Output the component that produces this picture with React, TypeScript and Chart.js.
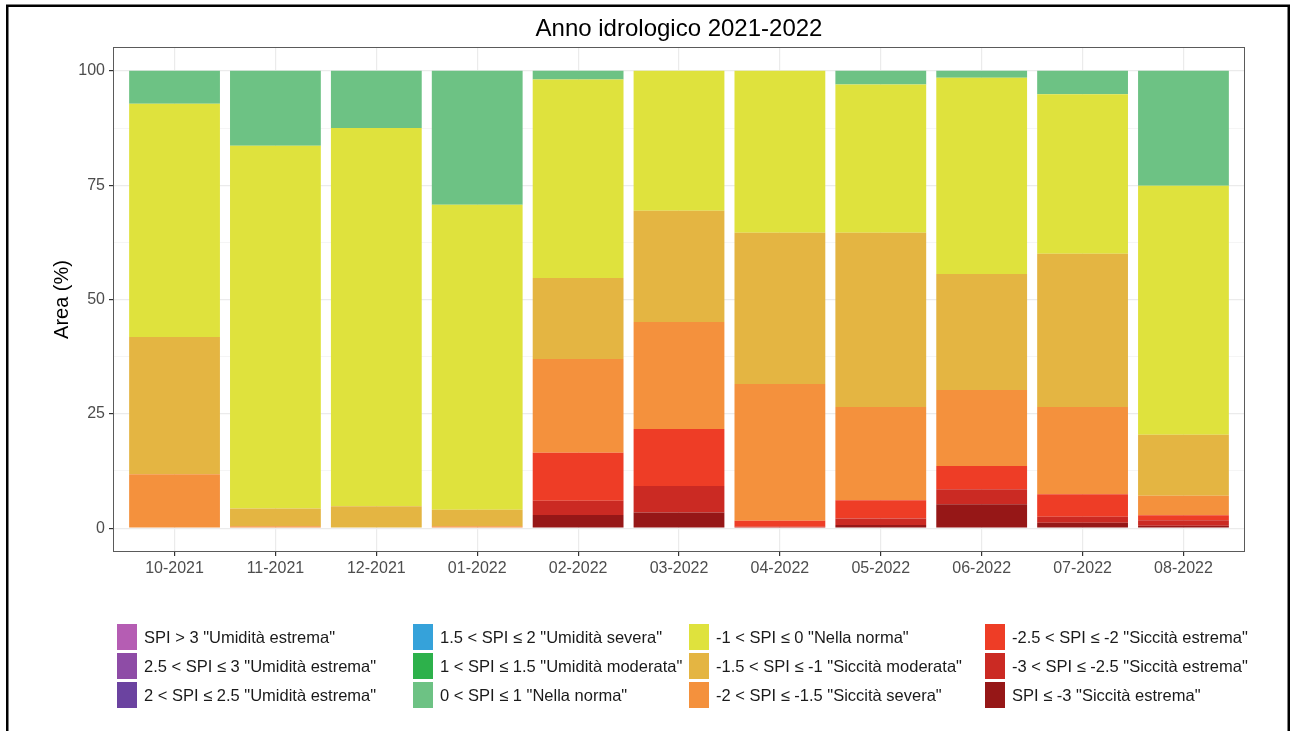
import { useEffect, useRef } from 'react';
import { Chart, registerables } from 'chart.js';

Chart.register(...registerables);

// ---------- data ----------
const months = ['10-2021', '11-2021', '12-2021', '01-2022', '02-2022', '03-2022', '04-2022', '05-2022', '06-2022', '07-2022', '08-2022'];

// classes, wettest -> driest (legend order, column-major)
const classLabels = [
  'SPI > 3 "Umidità estrema"',
  '2.5 < SPI ≤ 3 "Umidità estrema"',
  '2 < SPI ≤ 2.5 "Umidità estrema"',
  '1.5 < SPI ≤ 2 "Umidità severa"',
  '1 < SPI ≤ 1.5 "Umidità moderata"',
  '0 < SPI ≤ 1 "Nella norma"',
  '-1 < SPI ≤ 0 "Nella norma"',
  '-1.5 < SPI ≤ -1 "Siccità moderata"',
  '-2 < SPI ≤ -1.5 "Siccità severa"',
  '-2.5 < SPI ≤ -2 "Siccità estrema"',
  '-3 < SPI ≤ -2.5 "Siccità estrema"',
  'SPI ≤ -3 "Siccità estrema"',
];

const classColors = ['#B55DB3', '#8E4CA6', '#6B43A0', '#35A2DA', '#2DB14B', '#6DC284', '#DFE23D', '#E4B542', '#F4913D', '#EE3D26', '#CB2A23', '#961717'];

const spiGt3 = [0, 0, 0, 0, 0, 0, 0, 0, 0, 0, 0];
const spi25to3 = [0, 0, 0, 0, 0, 0, 0, 0, 0, 0, 0];
const spi2to25 = [0, 0, 0, 0, 0, 0, 0, 0, 0, 0, 0];
const spi15to2 = [0, 0, 0, 0, 0, 0, 0, 0, 0, 0, 0];
const spi1to15 = [0, 0, 0, 0, 0, 0, 0, 0, 0, 0, 0];
const spi0to1 = [7.2, 16.4, 12.5, 29.3, 1.9, 0, 0, 3.0, 1.5, 5.1, 25.1];
const spiM1to0 = [51.0, 79.3, 82.7, 66.7, 43.4, 30.6, 35.4, 32.4, 42.9, 34.9, 54.5];
const spiM15toM1 = [30.0, 3.9, 4.8, 3.6, 17.7, 24.3, 33.1, 38.1, 25.4, 33.5, 13.3];
const spiM2toM15 = [11.8, 0.4, 0, 0.4, 20.5, 23.4, 29.9, 20.4, 16.6, 19.1, 4.3];
const spiM25toM2 = [0, 0, 0, 0, 10.5, 12.5, 1.3, 4.0, 5.1, 4.9, 1.1];
const spiM3toM25 = [0, 0, 0, 0, 3.1, 5.8, 0.3, 1.4, 3.3, 1.3, 1.2];
const spiLeM3 = [0, 0, 0, 0, 2.9, 3.4, 0, 0.7, 5.2, 1.2, 0.5];

const classValues = [spiGt3, spi25to3, spi2to25, spi15to2, spi1to15, spi0to1, spiM1to0, spiM15toM1, spiM2toM15, spiM25toM2, spiM3toM25, spiLeM3];

const yMajorTicks = [0, 25, 50, 75, 100];
const yMinorTicks = [12.5, 37.5, 62.5, 87.5];

const chartTitle = 'Anno idrologico 2021-2022';
const yAxisTitle = 'Area (%)';

const FONT = '"Liberation Sans", Arial, Helvetica, sans-serif';

// ---------- plugins ----------
const frameAndLegend = {
  id: 'frameAndLegend',
  beforeDraw(chart: any) {
    const { ctx, width, height } = chart;
    ctx.save();
    ctx.fillStyle = '#ffffff';
    ctx.fillRect(0, 0, width, height);
    ctx.strokeStyle = '#000000';
    ctx.lineWidth = 2.5;
    ctx.strokeRect(7.25, 5.75, 1281.5, 780);
    ctx.restore();
  },
  afterDraw(chart: any) {
    const { ctx, chartArea: a } = chart;
    ctx.save();
    ctx.strokeStyle = '#5a5a5a';
    ctx.lineWidth = 1;
    ctx.strokeRect(Math.round(a.left) - 0.5, Math.round(a.top) - 0.5, Math.round(a.right - a.left) + 1, Math.round(a.bottom - a.top) + 1);

    // legend (4 columns x 3 rows, column-major)
    const colX = [117, 413, 689, 985];
    const rowY = [637, 666, 695];
    const keyW = 20;
    const keyH = 26;
    const textGap = 27;
    ctx.font = `16.5px ${FONT}`;
    ctx.textBaseline = 'middle';
    ctx.textAlign = 'left';
    classLabels.forEach((label, i) => {
      const c = Math.floor(i / 3);
      const r = i % 3;
      ctx.fillStyle = classColors[i];
      ctx.fillRect(colX[c], rowY[r] - keyH / 2, keyW, keyH);
      ctx.fillStyle = '#1a1a1a';
      ctx.fillText(label, colX[c] + textGap, rowY[r] + 1);
    });
    ctx.restore();
  },
};

export default function App() {
  const canvasRef = useRef<HTMLCanvasElement | null>(null);

  useEffect(() => {
    const canvas = canvasRef.current;
    if (!canvas) return;

    // bottom of stack = driest class
    const datasets = classLabels
      .map((label, i) => ({
        label,
        data: classValues[i].map((v, j) => ({ x: j, y: v })),
        backgroundColor: classColors[i],
        borderWidth: 0,
        categoryPercentage: 1,
        barPercentage: 0.9,
      }))
      .reverse();

    const chart = new Chart(canvas, {
      type: 'bar',
      data: { datasets },
      plugins: [frameAndLegend],
      options: {
        responsive: false,
        maintainAspectRatio: false,
        animation: false,
        devicePixelRatio: 1,
        layout: { padding: { left: 44, right: 48, top: 0, bottom: 140 } },
        plugins: {
          legend: { display: false },
          tooltip: { enabled: false },
          title: {
            display: true,
            text: chartTitle,
            fullSize: false,
            color: '#000000',
            font: { family: FONT, size: 24, weight: 'normal', lineHeight: 1.2 },
            padding: { top: 15, bottom: 4.2 },
          },
        },
        scales: {
          x: {
            type: 'linear',
            stacked: true,
            min: -0.6,
            max: 10.6,
            offset: false,
            afterBuildTicks: (scale: any) => {
              scale.ticks = months.map((_, i) => ({ value: i }));
            },
            afterFit: (scale: any) => {
              scale.height = 40;
            },
            ticks: {
              autoSkip: false,
              maxRotation: 0,
              minRotation: 0,
              padding: 3,
              color: '#4d4d4d',
              font: { family: FONT, size: 16 },
              callback: (v: any) => months[Math.round(Number(v))] ?? '',
            },
            grid: {
              offset: false,
              color: '#ebebeb',
              lineWidth: 1.2,
              tickColor: '#333333',
              tickLength: 5,
              tickWidth: 1.2,
            },
            border: { display: false },
          },
          y: {
            type: 'linear',
            stacked: true,
            min: -5,
            max: 105,
            afterBuildTicks: (scale: any) => {
              scale.ticks = [...yMajorTicks, ...yMinorTicks].sort((p, q) => p - q).map((v) => ({ value: v }));
            },
            afterFit: (scale: any) => {
              scale.width = 70;
            },
            ticks: {
              padding: 4,
              color: '#4d4d4d',
              font: { family: FONT, size: 16 },
              callback: (v: any) => (yMajorTicks.includes(Number(v)) ? String(v) : ''),
            },
            grid: {
              color: (c: any) => (c.tick && yMajorTicks.includes(c.tick.value) ? '#ebebeb' : '#f3f3f3'),
              lineWidth: (c: any) => (c.tick && yMajorTicks.includes(c.tick.value) ? 1.2 : 0.8),
              tickColor: (c: any) => (c.tick && yMajorTicks.includes(c.tick.value) ? '#333333' : 'rgba(0,0,0,0)'),
              tickLength: 5,
              tickWidth: 1.2,
            },
            border: { display: false },
            title: {
              display: true,
              text: yAxisTitle,
              color: '#000000',
              font: { family: FONT, size: 20, lineHeight: 1.2 },
              padding: { top: 6, bottom: 0 },
            },
          },
        },
      } as any,
    });

    return () => chart.destroy();
  }, []);

  return (
    <div style={{ position: 'absolute', left: 0, top: 0, width: 1292, height: 731, background: '#fff' }}>
      <canvas ref={canvasRef} width={1292} height={731} style={{ width: 1292, height: 731, display: 'block' }} />
    </div>
  );
}
